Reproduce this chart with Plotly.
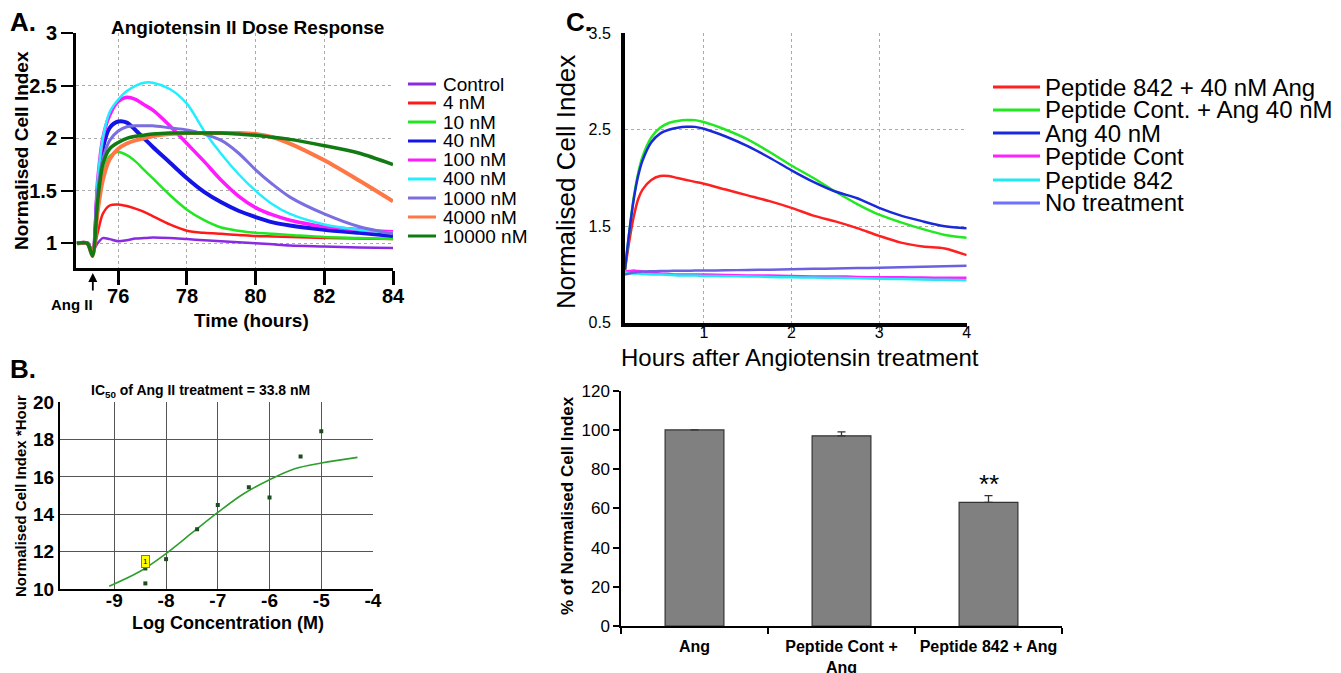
import plotly.graph_objects as go

# The page has an 8 px body margin, so the figure is 8 px smaller than the window
# and every layout position (given in window pixels) is shifted by that offset.
OFF = 8
W, H = 1341 - OFF, 673 - OFF
FONT = "Liberation Sans, Arial, Helvetica, sans-serif"

# ---------------- Panel A data ----------------
a_time = [74.8, 75.1, 75.25, 75.4, 75.55, 75.75, 76.0, 76.25, 76.5, 76.75, 77.0, 77.5,
          78.0, 78.5, 79.0, 79.5, 80.0, 80.5, 81.0, 82.0, 83.0, 84.0]
a_names = ["Control", "4 nM", "10 nM", "40 nM", "100 nM", "400 nM", "1000 nM", "4000 nM", "10000 nM"]
a_colors = ["#8a2be2", "#ff1a1a", "#22e622", "#1414e6", "#ff1aff", "#22eeff", "#7a6ee0", "#ff7744", "#127a12"]
a_widths = [2.5, 2.5, 2.5, 4, 3.5, 2.5, 3, 4, 3.5]
a_control = [1.0, 1.0, 0.93, 1.0, 1.05, 1.04, 1.02, 1.03, 1.045, 1.05, 1.055, 1.05, 1.04, 1.03, 1.02, 1.01, 1.0, 0.99, 0.98, 0.97, 0.96, 0.955]
a_4nM = [1.0, 1.0, 0.9, 1.1, 1.28, 1.36, 1.37, 1.355, 1.33, 1.3, 1.26, 1.18, 1.12, 1.1, 1.09, 1.08, 1.07, 1.065, 1.06, 1.05, 1.045, 1.04]
a_10nM = [1.0, 1.0, 0.88, 1.3, 1.65, 1.83, 1.87, 1.84, 1.78, 1.7, 1.62, 1.46, 1.32, 1.22, 1.15, 1.12, 1.1, 1.09, 1.08, 1.06, 1.05, 1.04]
a_40nM = [1.0, 1.0, 0.9, 1.5, 1.9, 2.1, 2.16, 2.15, 2.08, 2.0, 1.92, 1.77, 1.62, 1.49, 1.39, 1.31, 1.25, 1.2, 1.17, 1.13, 1.1, 1.07]
a_100nM = [1.0, 1.0, 0.9, 1.6, 2.0, 2.22, 2.35, 2.39, 2.37, 2.32, 2.27, 2.12, 1.95, 1.78, 1.6, 1.45, 1.34, 1.27, 1.22, 1.16, 1.13, 1.11]
a_400nM = [1.0, 1.0, 0.9, 1.6, 2.0, 2.25, 2.37, 2.45, 2.5, 2.53, 2.53, 2.47, 2.33, 2.07, 1.85, 1.66, 1.5, 1.37, 1.28, 1.18, 1.13, 1.1]
a_1000nM = [1.0, 1.0, 0.9, 1.5, 1.8, 1.98, 2.07, 2.11, 2.12, 2.12, 2.12, 2.1, 2.08, 2.04, 1.98, 1.86, 1.7, 1.56, 1.44, 1.28, 1.16, 1.09]
a_4000nM = [1.0, 1.0, 0.88, 1.3, 1.6, 1.8, 1.9, 1.95, 1.98, 2.0, 2.02, 2.04, 2.05, 2.05, 2.05, 2.05, 2.04, 2.01, 1.95, 1.79, 1.6, 1.4]
a_10000nM = [1.0, 1.0, 0.88, 1.4, 1.75, 1.9, 1.96, 2.0, 2.02, 2.03, 2.04, 2.05, 2.05, 2.05, 2.05, 2.04, 2.03, 2.01, 1.99, 1.93, 1.86, 1.75]
a_series = [a_control, a_4nM, a_10nM, a_40nM, a_100nM, a_400nM, a_1000nM, a_4000nM, a_10000nM]
a_xticks = [76, 78, 80, 82, 84]
a_yticks = [1, 1.5, 2, 2.5, 3]
a_ytext = ["1", "1.5", "2", "2.5", "3"]

# ---------------- Panel B data ----------------
b_logc = [-8.4, -8.4, -8.0, -7.4, -7.0, -6.4, -6.0, -5.4, -5.0]
b_value = [11.1, 10.3, 11.6, 13.2, 14.5, 15.45, 14.9, 17.1, 18.45]
b_fit_x = [-9.1, -8.5, -8.0, -7.5, -7.0, -6.5, -6.0, -5.5, -5.0, -4.3]
b_fit_y = [10.15, 10.95, 11.9, 13.0, 14.1, 15.1, 15.85, 16.45, 16.75, 17.05]
b_xticks = [-9, -8, -7, -6, -5, -4]
b_xtext = ["-9", "-8", "-7", "-6", "-5", "-4"]
b_yticks = [10, 12, 14, 16, 18, 20]

# ---------------- Panel C data ----------------
c_time = [0.1, 0.15, 0.2, 0.25, 0.3, 0.4, 0.5, 0.6, 0.7, 0.8, 0.9, 1.0, 1.25, 1.5,
          1.75, 2.0, 2.25, 2.5, 2.75, 3.0, 3.25, 3.5, 3.75, 4.0]
c_names = ["Peptide 842 + 40 nM Ang", "Peptide Cont. + Ang 40 nM", "Ang 40 nM",
           "Peptide Cont", "Peptide 842", "No treatment"]
c_colors = ["#ff2020", "#22e822", "#1a2ad8", "#ff22ff", "#22e8f0", "#6a60e0"]
c_legend_colors = ["#ff2020", "#22e822", "#1a2ad8", "#ff22ff", "#22e8f0", "#7070ff"]
c_pep842_ang = [1.05, 1.35, 1.6, 1.78, 1.88, 1.98, 2.02, 2.02, 2.0, 1.98, 1.96, 1.94, 1.88, 1.82,
                1.76, 1.69, 1.61, 1.55, 1.48, 1.4, 1.33, 1.29, 1.27, 1.2]
c_pepcont_ang = [1.05, 1.45, 1.8, 2.05, 2.22, 2.42, 2.52, 2.57, 2.59, 2.6, 2.6, 2.58, 2.5, 2.4,
                 2.27, 2.13, 2.0, 1.86, 1.73, 1.62, 1.54, 1.47, 1.41, 1.38]
c_ang40 = [1.05, 1.45, 1.78, 2.02, 2.18, 2.37, 2.46, 2.5, 2.52, 2.53, 2.53, 2.51, 2.43, 2.33,
           2.21, 2.08, 1.96, 1.86, 1.79, 1.69, 1.61, 1.55, 1.5, 1.48]
c_pepcont = [1.03, 1.035, 1.04, 1.035, 1.03, 1.02, 1.01, 1.005, 1.0, 1.0, 1.0, 1.0, 0.995, 0.99,
             0.99, 0.985, 0.98, 0.98, 0.975, 0.97, 0.97, 0.968, 0.966, 0.965]
c_pep842 = [1.02, 1.015, 1.01, 1.01, 1.005, 1.0, 1.0, 0.995, 0.99, 0.99, 0.988, 0.985, 0.982, 0.98,
            0.975, 0.97, 0.968, 0.965, 0.96, 0.955, 0.952, 0.948, 0.944, 0.94]
c_notreat = [1.0, 1.01, 1.02, 1.025, 1.03, 1.033, 1.035, 1.037, 1.038, 1.039, 1.04, 1.04, 1.043, 1.047,
             1.05, 1.055, 1.058, 1.062, 1.066, 1.07, 1.075, 1.08, 1.085, 1.09]
c_series = [c_pep842_ang, c_pepcont_ang, c_ang40, c_pepcont, c_pep842, c_notreat]
c_xticks = [1, 2, 3, 4]
c_yticks = [0.5, 1.5, 2.5, 3.5]

# ---------------- Panel D (bar) data ----------------
d_cats = ["Ang", "Peptide Cont +<br>Ang", "Peptide 842 + Ang"]
d_values = [100, 97, 63]
d_err = [0, 2, 3.5]
d_yticks = [0, 20, 40, 60, 80, 100, 120]


def px(x):
    return (x - OFF) / W


def py(y):
    return 1 - (y - OFF) / H


fig = go.Figure()

for name, col, wd, ys in zip(a_names, a_colors, a_widths, a_series):
    fig.add_trace(go.Scatter(x=a_time, y=ys, mode="lines", name=name, showlegend=False,
                             line=dict(color=col, width=wd, shape="spline", smoothing=0.8),
                             xaxis="x", yaxis="y"))

fig.add_trace(go.Scatter(x=b_fit_x, y=b_fit_y, mode="lines", showlegend=False, name="fit",
                         line=dict(color="#2e9e2e", width=1.6, shape="spline"),
                         xaxis="x2", yaxis="y2"))
fig.add_trace(go.Scatter(x=b_logc, y=b_value, mode="markers", showlegend=False, name="data",
                         marker=dict(symbol="square", size=4, color="#1d4d1d"),
                         xaxis="x2", yaxis="y2"))

for name, col, ys in zip(c_names, c_colors, c_series):
    fig.add_trace(go.Scatter(x=c_time, y=ys, mode="lines", name=name, showlegend=False,
                             line=dict(color=col, width=2.5, shape="spline", smoothing=0.8),
                             xaxis="x3", yaxis="y3"))

fig.add_trace(go.Bar(x=d_cats, y=d_values, width=0.4, showlegend=False,
                     marker=dict(color="#808080", line=dict(color="#333333", width=1.2)),
                     error_y=dict(type="data", array=d_err, arrayminus=[0, 0, 0], symmetric=False,
                                  color="#333333", thickness=1.3, width=4),
                     xaxis="x4", yaxis="y4"))

bold = dict(family=FONT, color="black", weight="bold")
common = dict(automargin=False, zeroline=False, showline=True, linecolor="black", tickangle=0)

layout = dict(
    template="none",
    width=W, height=H, autosize=False,
    margin=dict(l=0, r=0, t=0, b=0, pad=0, autoexpand=False),
    paper_bgcolor="white", plot_bgcolor="white",
    font=dict(family=FONT, color="black"),
    showlegend=False,
    xaxis=dict(domain=[px(76), px(393)], range=[74.77, 84], tickvals=a_xticks,
               showgrid=True, gridcolor="#aaaaaa", griddash="dot", gridwidth=1, linewidth=3,
               ticks="outside", ticklen=14, tickwidth=3, tickcolor="black", ticklabelstandoff=-6,
               tickfont=dict(size=20, **bold), anchor="y", **common),
    yaxis=dict(domain=[py(268), py(33.3)], range=[0.765, 3], tickvals=a_yticks, ticktext=a_ytext,
               showgrid=True, gridcolor="#aaaaaa", griddash="dot", gridwidth=1, linewidth=3,
               ticks="outside", ticklen=12, tickwidth=2, tickcolor="black",
               tickfont=dict(size=20, **bold), anchor="x", **common),
    xaxis2=dict(domain=[px(60), px(373)], range=[-10.05, -4], tickvals=b_xticks, ticktext=b_xtext,
                showgrid=True, gridcolor="#555555", gridwidth=1, linewidth=2,
                ticks="", ticklabelstandoff=-7, tickfont=dict(size=19, **bold), anchor="y2", **common),
    yaxis2=dict(domain=[py(589), py(402.3)], range=[10, 20], tickvals=b_yticks,
                showgrid=True, gridcolor="#555555", gridwidth=1, linewidth=2,
                ticks="", ticklabelstandoff=0, tickfont=dict(size=19, **bold), anchor="x2", **common),
    xaxis3=dict(domain=[px(625), px(966.7)], range=[0.1, 4], tickvals=c_xticks,
                showgrid=True, gridcolor="#aaaaaa", griddash="dot", gridwidth=1, linewidth=4,
                ticks="outside", ticklen=5, tickwidth=1, tickcolor="#888888", ticklabelstandoff=-13,
                tickfont=dict(size=16, family=FONT, color="black"), anchor="y3", **common),
    yaxis3=dict(domain=[py(322.7), py(33.3)], range=[0.5, 3.5], tickvals=c_yticks,
                showgrid=True, gridcolor="#aaaaaa", griddash="dot", gridwidth=1, linewidth=4,
                ticks="", ticklabelstandoff=7,
                tickfont=dict(size=16, family=FONT, color="black"), anchor="x3", **common),
    xaxis4=dict(domain=[px(621), px(1062)], type="category", linewidth=1.5, showgrid=False,
                ticks="outside", tickson="boundaries", ticklen=6, tickwidth=1.5, tickcolor="black",
                ticklabelstandoff=5, tickfont=dict(size=16, **bold), anchor="y4", **common),
    yaxis4=dict(domain=[py(626), py(390.7)], range=[0, 120], tickvals=d_yticks,
                linewidth=1.5, showgrid=False,
                ticks="outside", ticklen=6, tickwidth=1.5, tickcolor="black",
                tickfont=dict(size=17, family=FONT, color="black"), anchor="x4", **common),
)

annotations = []
shapes = []


def text_at(x, y, text, size, weight="normal", angle=0, xanchor="center", yanchor="middle"):
    annotations.append(dict(x=px(x), y=py(y), xref="paper", yref="paper", text=text,
                            showarrow=False, textangle=angle, xanchor=xanchor, yanchor=yanchor,
                            font=dict(family=FONT, size=size, color="black", weight=weight)))


# panel letters
text_at(23, 22, "A.", 26, "bold")
text_at(23, 369, "B.", 26, "bold")
text_at(579, 22, "C.", 26, "bold")

# panel A texts
text_at(247, 27, "Angiotensin II Dose Response", 19, "bold")
text_at(21, 151, "Normalised Cell Index", 19, "bold", angle=-90)
text_at(251, 320, "Time (hours)", 19, "bold")
text_at(72, 304, "Ang II", 15, "bold")
annotations.append(dict(x=75.26, y=py(273), xref="x", yref="paper", text="", showarrow=True,
                        ax=0, ay=19, axref="pixel", ayref="pixel", arrowhead=2, arrowsize=1,
                        arrowwidth=1.8, arrowcolor="black"))

# panel A legend
a_leg_y = [84, 103, 122, 141, 160, 179, 198, 217, 236]
for name, col, yy in zip(a_names, a_colors, a_leg_y):
    shapes.append(dict(type="line", xref="paper", yref="paper", x0=px(408), x1=px(436),
                       y0=py(yy), y1=py(yy), line=dict(color=col, width=3)))
    text_at(441, yy, name, 19, xanchor="left")

# panel B texts
text_at(200, 391, "IC<sub>50</sub> of Ang II treatment = 33.8 nM", 14, "bold")
text_at(20, 496, "Normalised Cell Index *Hour", 15, "bold", angle=-90)
text_at(228, 623, "Log Concentration (M)", 18, "bold")
annotations.append(dict(x=-8.4, y=11.5, xref="x2", yref="y2", text="1", showarrow=False,
                        bgcolor="#ffff00", bordercolor="#777777", borderwidth=1, borderpad=1,
                        font=dict(family=FONT, size=8, color="black")))

# panel C texts
text_at(566, 182, "Normalised Cell Index", 26, angle=-90)
text_at(800, 357, "Hours after Angiotensin treatment", 24)
c_leg_y = [87, 110, 133, 156, 180, 203]
for name, col, yy in zip(c_names, c_legend_colors, c_leg_y):
    shapes.append(dict(type="line", xref="paper", yref="paper", x0=px(993), x1=px(1040),
                       y0=py(yy), y1=py(yy), line=dict(color=col, width=3)))
    text_at(1043, yy, name, 24, xanchor="left")

# panel D texts
text_at(567, 506, "% of Normalised Cell Index", 17, "bold", angle=-90)
annotations.append(dict(x=d_cats[2], y=d_values[2] + 1, xref="x4", yref="y4", text="**",
                        showarrow=False, yanchor="bottom",
                        font=dict(family=FONT, size=26, color="black")))

layout["annotations"] = annotations
layout["shapes"] = shapes
fig.update_layout(**layout)

fig.write_html("out.html")
